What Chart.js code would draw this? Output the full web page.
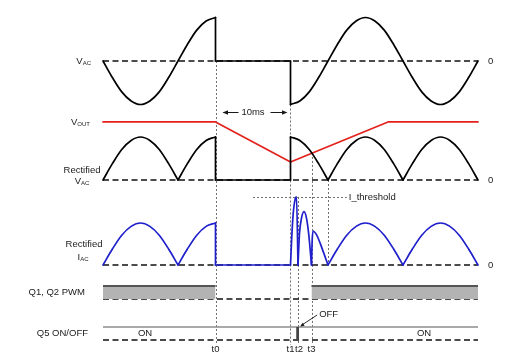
<!DOCTYPE html>
<html><head><meta charset="utf-8">
<script src="https://cdn.jsdelivr.net/npm/chart.js@4/dist/chart.umd.min.js"></script>
<style>html,body{margin:0;padding:0;background:#fff;}#wrap{width:517px;height:361px;position:relative;}</style>
</head><body><div id="wrap"><canvas id="c"></canvas></div>
<script>
// ---------- data (time in ms, amplitudes normalised) ----------
const timeMs  = [0,1.25,2.5,3.75,5,6.25,7.5,8.75,10,11.25,12.5,13.75,15,16.25,17.5,18.75,20,21.25,22.5,23.75,25,26.25,27.5,28.75,30,31.25,32.5,33.75,35,36.25,37.5,38.75,40,41.25,42.5,43.75,45,46.25,47.5,48.75,50];
const vacSine = [0,-0.38,-0.71,-0.92,-1,-0.92,-0.71,-0.38,0,0.38,0.71,0.92,1,0.92,0.71,0.38,0,-0.38,-0.71,-0.92,-1,-0.92,-0.71,-0.38,0,0.38,0.71,0.92,1,0.92,0.71,0.38,0,-0.38,-0.71,-0.92,-1,-0.92,-0.71,-0.38,0];
const eventT     = [15, 25, 26, 27.8];          // t0, t1, t2, t3
const eventLabels = ['t0','t1','t2','t3'];
const rectZeroT  = 30;
const iTransT = [25,25.15,25.35,25.6,25.8,26,26.2,26.45,26.8,27.15,27.45,27.8,27.88,28.0,28.5,28.95,29.4,30];
const iTransV = [0,0.6,1.2,1.55,1.62,0,0.75,1.1,1.27,1.1,0.7,0,0.55,0.81,0.71,0.52,0.3,0];
const iThreshold = 1.62;
const voutT = [0,15,25,38,50];
const voutV = [1.35,1.35,0.42,1.35,1.35];
const pwmOnStart = [0, 27.8];
const pwmOnEnd   = [15, 50];
const q5Off = [25.75, 26.15];

// ---------- layout ----------
const W = 517, H = 361, X0 = 103, PX_PER_MS = 7.5;
const FONT = '"Liberation Sans", Arial, Helvetica, sans-serif';
function yAxis(zeroPx, unitPx){ return {type:'linear', display:false, min:-(H-zeroPx)/unitPx, max:zeroPx/unitPx}; }

const P = (t,v)=>({x:t,y:v});
const t0 = eventT[0], t1 = eventT[1];
function acPoints(fn){
  const pre = timeMs.map((t,i)=>P(t,fn(vacSine[i]))).filter(p=>p.x<=t0);
  const post = timeMs.map((t,i)=>P(t,fn(vacSine[i]))).filter(p=>p.x>=t1);
  return {pre, post};
}
function dedupe(pts){ return pts.filter((p,i)=>i===0 || !(p.x===pts[i-1].x && p.y===pts[i-1].y)); }
function pieces(pts, splitZeros){
  pts = dedupe(pts);
  const out=[]; let cur=[pts[0]];
  for(let i=1;i<pts.length;i++){
    const p=pts[i], prev=pts[i-1];
    if(p.x===prev.x){ out.push({pts:cur,curve:true}); out.push({pts:[prev,p],curve:false}); cur=[p]; continue; }
    cur.push(p);
    if(splitZeros && p.y===0 && i<pts.length-1){ out.push({pts:cur,curve:true}); cur=[p]; }
  }
  out.push({pts:cur,curve:true});
  return out.filter(s=>s.pts.length>1);
}
function toDatasets(pcs, axis, color, width){
  return pcs.map(s=>({type:'line', data:s.pts, yAxisID:axis, borderColor:color, borderWidth:width||1.7,
    pointRadius:0, fill:false, tension:0, cubicInterpolationMode: s.curve && s.pts.length>2 ? 'monotone':'default',
    borderCapStyle:'round', borderJoinStyle:'round'}));
}

const vac = acPoints(v=>v);
const vacAll = [...vac.pre, P(t0,0), P(t1,0), ...vac.post];
const rect = acPoints(v=>Math.abs(v));
const rectAll = [...rect.pre, P(t0,0), P(t1,0), ...rect.post];
const iAll = [...rect.pre, P(t0,0), P(t1,0), ...iTransT.map((t,i)=>P(t,iTransV[i])), ...rect.post.filter(p=>p.x>=rectZeroT)];
const voutPts = voutT.map((t,i)=>P(t,voutV[i]));

function baseline(axis){ return {type:'line', data:[P(0,0),P(50,0)], yAxisID:axis, borderColor:'#111', borderWidth:1.6, borderDash:[6,3.5], pointRadius:0, fill:false}; }

const datasets = [
  ...toDatasets(pieces(vacAll,false),'yVac','#000'),
  ...toDatasets(pieces(rectAll,true),'yRect','#000'),
  ...toDatasets([{pts:voutPts,curve:false}],'yRect','#e3211c',1.7),
  ...toDatasets(pieces(iAll,true),'yI','#1f1fcc'),
  ...pwmOnStart.map((s,i)=>({type:'line', data:[P(s,1),P(pwmOnEnd[i],1)], yAxisID:'yPwm', borderColor:'#555', borderWidth:2, backgroundColor:'#b3b3b3', fill:'origin', pointRadius:0})),
  {type:'line', data:[P(q5Off[0],1),P(q5Off[1],1)], yAxisID:'yQ5', borderColor:'#444', borderWidth:0, backgroundColor:'#444', fill:'origin', pointRadius:0},
  {type:'line', data:[P(0,1),P(50,1)], yAxisID:'yQ5', borderColor:'#8c8c8c', borderWidth:1.5, pointRadius:0, fill:false},
  baseline('yVac'), baseline('yRect'), baseline('yI'), baseline('yPwm'), baseline('yQ5')
];

// ---------- annotation plugin ----------
function arrowHead(ctx, x, y, ang, len){
  ctx.beginPath(); ctx.moveTo(x,y);
  ctx.lineTo(x-len*Math.cos(ang-0.4), y-len*Math.sin(ang-0.4));
  ctx.lineTo(x-len*Math.cos(ang+0.4), y-len*Math.sin(ang+0.4));
  ctx.closePath(); ctx.fill();
}
function subLabel(ctx, main, sub, x, y, align){
  ctx.font = '9.5px '+FONT; const w1 = ctx.measureText(main).width;
  ctx.font = '6px '+FONT; const w2 = ctx.measureText(sub).width;
  let sx = align==='right' ? x-w1-w2 : x-(w1+w2)/2;
  ctx.textAlign='left'; ctx.textBaseline='middle';
  ctx.font = '9.5px '+FONT; ctx.fillText(main, sx, y);
  ctx.font = '6px '+FONT; ctx.fillText(sub, sx+w1, y+2);
}
const annot = {
  id:'annot',
  beforeDatasetsDraw(chart){
    const {ctx, scales:s} = chart;
    const bottom = s.yQ5.getPixelForValue(-0.38);
    ctx.save(); ctx.strokeStyle='#707070'; ctx.lineWidth=1; ctx.setLineDash([2,2]);
    const vline=(t,y1,y2)=>{const px=Math.round(s.x.getPixelForValue(t))+0.5; ctx.beginPath(); ctx.moveTo(px,y1); ctx.lineTo(px,y2); ctx.stroke();};
    vline(eventT[0], s.yVac.getPixelForValue(0), bottom);
    vline(eventT[1], s.yVac.getPixelForValue(-1), bottom);
    vline(eventT[2], s.yI.getPixelForValue(iThreshold), bottom);
    vline(eventT[3], s.yRect.getPixelForValue(0.63), bottom);
    vline(rectZeroT, s.yRect.getPixelForValue(0), s.yI.getPixelForValue(0));
    const hy = Math.round(s.yI.getPixelForValue(iThreshold))+0.5;
    ctx.beginPath(); ctx.moveTo(s.x.getPixelForValue(20), hy); ctx.lineTo(s.x.getPixelForValue(32.5), hy); ctx.stroke();
    ctx.restore();
  },
  afterDraw(chart){
    const {ctx, scales:s} = chart;
    ctx.save(); ctx.fillStyle='#1a1a1a'; ctx.strokeStyle='#1a1a1a';
    // left labels
    subLabel(ctx,'V','AC',91,s.yVac.getPixelForValue(0),'right');
    subLabel(ctx,'V','OUT',90,s.yRect.getPixelForValue(voutV[0]),'right');
    ctx.font='9.5px '+FONT; ctx.textAlign='center'; ctx.textBaseline='middle';
    ctx.fillText('Rectified',82,s.yRect.getPixelForValue(0)-10);
    subLabel(ctx,'V','AC',82,s.yRect.getPixelForValue(0)+1,'center');
    ctx.font='9.5px '+FONT; ctx.textAlign='center';
    ctx.fillText('Rectified',84,s.yI.getPixelForValue(0)-21);
    subLabel(ctx,'I','AC',83,s.yI.getPixelForValue(0)-8,'center');
    ctx.font='9.5px '+FONT; ctx.textAlign='right';
    ctx.fillText('Q1, Q2 PWM',85,s.yPwm.getPixelForValue(0.5));
    ctx.fillText('Q5 ON/OFF',88,s.yQ5.getPixelForValue(0.5));
    // zero labels
    ctx.textAlign='left';
    ['yVac','yRect','yI'].forEach(a=>ctx.fillText('0',488,s[a].getPixelForValue(0)));
    // ON labels
    ctx.textAlign='center';
    ctx.fillText('ON',145,s.yQ5.getPixelForValue(0.5));
    ctx.fillText('ON',424,s.yQ5.getPixelForValue(0.5));
    // event tick labels
    eventLabels.forEach((l,i)=>ctx.fillText(l, s.x.getPixelForValue(eventT[i])+(i===2?1:0), 349));
    // I_threshold
    ctx.textAlign='left';
    ctx.fillText('I_threshold', s.x.getPixelForValue(32.5)+2, s.yI.getPixelForValue(iThreshold));
    // 10ms arrow
    const xa = s.x.getPixelForValue(t0), xb = s.x.getPixelForValue(t1), ya = 112.5;
    ctx.textAlign='center'; ctx.fillText('10ms', (xa+xb)/2, ya);
    ctx.lineWidth=1;
    ctx.beginPath(); ctx.moveTo(xa+8,ya); ctx.lineTo(xa+23,ya); ctx.stroke();
    arrowHead(ctx, xa+7, ya, Math.PI, 6);
    ctx.beginPath(); ctx.moveTo(xb-20,ya); ctx.lineTo(xb-5,ya); ctx.stroke();
    arrowHead(ctx, xb-3, ya, 0, 6);
    // OFF label + arrow
    const px = s.x.getPixelForValue(q5Off[1]), py = s.yQ5.getPixelForValue(1);
    ctx.textAlign='left'; ctx.fillText('OFF', px+20, py-13);
    ctx.lineWidth=0.9;
    ctx.beginPath(); ctx.moveTo(px+18, py-12); ctx.lineTo(px+2, py-1.5); ctx.stroke();
    arrowHead(ctx, px+1, py-0.5, Math.atan2(10.5,-17), 4.5);
    ctx.restore();
  }
};

new Chart(document.getElementById('c'), {
  type:'line',
  data:{datasets},
  options:{
    responsive:true, maintainAspectRatio:false, animation:false,
    layout:{padding:0},
    plugins:{legend:{display:false}, tooltip:{enabled:false}},
    elements:{point:{radius:0}},
    scales:{
      x:{type:'linear', display:false, min:-X0/PX_PER_MS, max:(W-X0)/PX_PER_MS},
      yVac: yAxis(61,43.5),
      yRect: yAxis(180,43),
      yI: yAxis(265,42),
      yPwm: yAxis(299,13),
      yQ5: yAxis(340,13)
    }
  },
  plugins:[annot]
});
</script></body></html>
